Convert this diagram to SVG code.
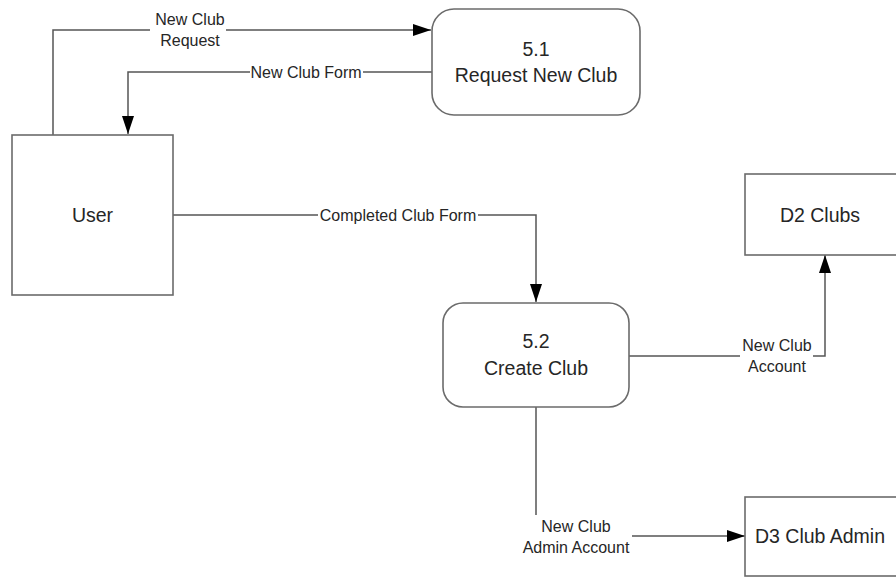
<svg xmlns="http://www.w3.org/2000/svg" width="896" height="578" viewBox="0 0 896 578">
  <style>
    .node { fill: #ffffff; stroke: #6b6b6b; stroke-width: 1.6; }
    .name { font-family: "Liberation Sans", Arial, sans-serif; font-size: 19.5px; fill: #262626; text-anchor: middle; }
    .flow { fill: none; stroke: #555555; stroke-width: 1.5; }
    .lbl { font-family: "Liberation Sans", Arial, sans-serif; font-size: 16px; fill: #262626; text-anchor: middle; }
  </style>
  <defs>
    <marker id="arrow" markerWidth="18" markerHeight="12" refX="18" refY="6" orient="auto" markerUnits="userSpaceOnUse">
      <path d="M0,0 L18,6 L0,12 Z" fill="#000000"/>
    </marker>
  </defs>
  <rect width="896" height="578" fill="#ffffff"/>

  <!-- data flows -->
  <g id="connectors">
    <!-- New Club Request: User -> 5.1 -->
    <path class="flow" d="M53,135 V30 H150"/>
    <path class="flow" d="M226,30 H431" marker-end="url(#arrow)"/>
    <text class="lbl" x="190" y="25">New Club</text>
    <text class="lbl" x="190" y="46">Request</text>

    <!-- New Club Form: 5.1 -> User -->
    <path class="flow" d="M432,72 H363"/>
    <path class="flow" d="M250,72 H128 V134" marker-end="url(#arrow)"/>
    <text class="lbl" x="306" y="77.5">New Club Form</text>

    <!-- Completed Club Form: User -> 5.2 -->
    <path class="flow" d="M173,215 H318"/>
    <path class="flow" d="M478,215 H536 V302" marker-end="url(#arrow)"/>
    <text class="lbl" x="398" y="220.5">Completed Club Form</text>

    <!-- New Club Account: 5.2 -> D2 Clubs -->
    <path class="flow" d="M629,356 H740"/>
    <path class="flow" d="M813,356 H825 V255" marker-end="url(#arrow)"/>
    <text class="lbl" x="777" y="351">New Club</text>
    <text class="lbl" x="777" y="372">Account</text>

    <!-- New Club Admin Account: 5.2 -> D3 Club Admin -->
    <path class="flow" d="M536,407 V515"/>
    <path class="flow" d="M632,536 H745" marker-end="url(#arrow)"/>
    <text class="lbl" x="576" y="532">New Club</text>
    <text class="lbl" x="576" y="553">Admin Account</text>
  </g>

  <!-- external entity -->
  <g id="user">
    <rect class="node" x="12" y="135" width="161" height="160"/>
    <text class="name" x="92.5" y="222">User</text>
  </g>

  <!-- processes -->
  <g id="p5_1">
    <rect class="node" x="432" y="9" width="208" height="106" rx="22" ry="22"/>
    <text class="name" x="536" y="56">5.1</text>
    <text class="name" x="536" y="82">Request New Club</text>
  </g>

  <g id="p5_2">
    <rect class="node" x="443" y="303" width="186" height="104" rx="20" ry="20"/>
    <text class="name" x="536" y="348">5.2</text>
    <text class="name" x="536" y="375">Create Club</text>
  </g>

  <!-- data stores -->
  <g id="d2">
    <rect class="node" x="745" y="174" width="160" height="81"/>
    <text class="name" x="820" y="222">D2 Clubs</text>
  </g>

  <g id="d3">
    <rect class="node" x="745" y="497" width="160" height="79"/>
    <text class="name" x="820" y="543">D3 Club Admin</text>
  </g>
</svg>
